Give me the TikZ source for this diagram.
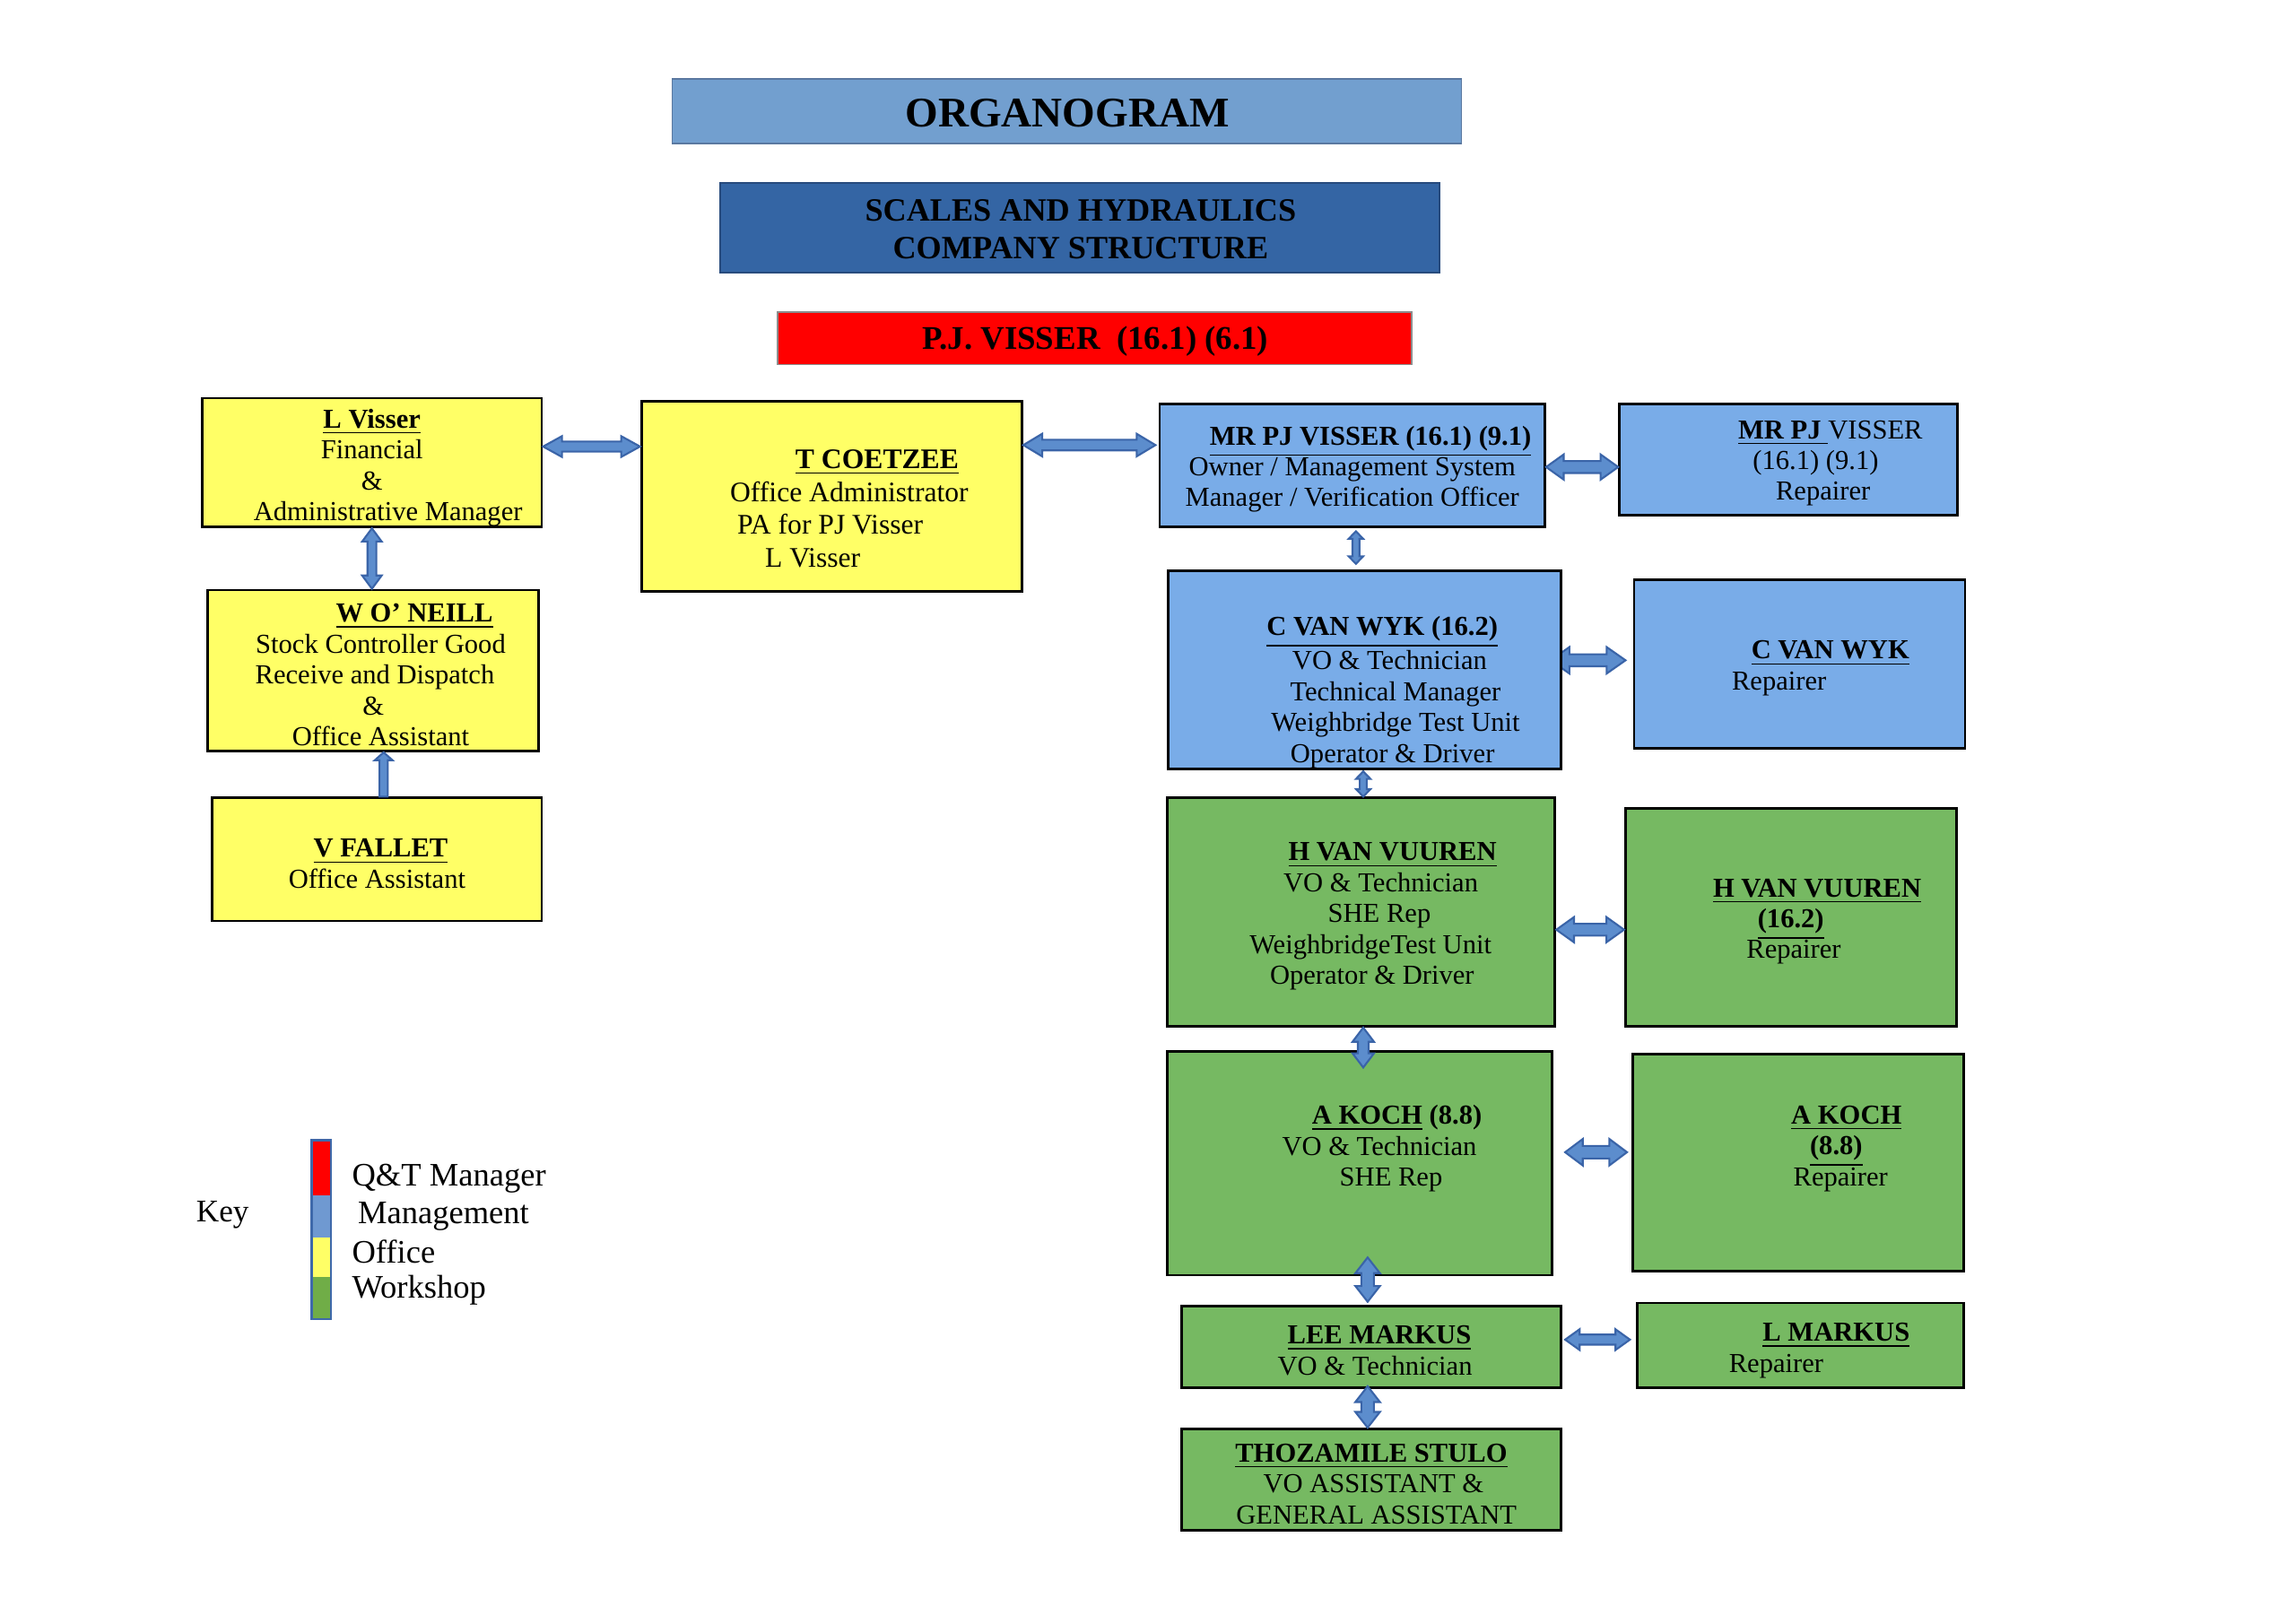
\documentclass[tikz,border=0pt]{standalone}
\usepackage{fontspec}
\setmainfont{Liberation Serif}
\usetikzlibrary{calc}
\definecolor{offyellow}{RGB}{255,255,102}
\definecolor{mgmtblue}{RGB}{121,172,232}
\definecolor{wsgreen}{RGB}{118,185,98}
\definecolor{titleblue}{RGB}{114,159,207}
\definecolor{titleborder}{RGB}{90,120,160}
\definecolor{compblue}{RGB}{52,101,164}
\definecolor{compborder}{RGB}{40,75,125}
\definecolor{keyblue}{RGB}{111,153,209}
\definecolor{keyborder}{RGB}{62,105,170}
\definecolor{keyyellow}{RGB}{255,255,102}
\definecolor{keygreen}{RGB}{112,173,71}
\definecolor{arrfill}{RGB}{92,141,205}
\definecolor{arrline}{RGB}{58,100,168}
\newlength\pxl \setlength\pxl{0.016327cm}
\newcommand\sh[1]{\hspace*{#1\pxl}}
\newcommand\nm[1]{\underline{\textbf{#1}}}
\pgfdeclarelayer{bg}\pgfsetlayers{bg,main}
% horizontal double block arrow: #1 left point, #2 right point, #3 head half width, #4 shaft half width, #5 head length
\newcommand\harr[5]{\path[blockarrow] let \p1=#1, \p2=#2 in
  (\x1,\y1) -- ({\x1+#5},{\y1+#3}) -- ({\x1+#5},{\y1+#4}) -- ({\x2-#5},{\y1+#4}) -- ({\x2-#5},{\y1+#3}) -- (\x2,\y1)
  -- ({\x2-#5},{\y1-#3}) -- ({\x2-#5},{\y1-#4}) -- ({\x1+#5},{\y1-#4}) -- ({\x1+#5},{\y1-#3}) -- cycle;}
% vertical double block arrow: #1 top point, #2 bottom point
\newcommand\varr[5]{\path[blockarrow] let \p1=#1, \p2=#2 in
  (\x1,\y1) -- ({\x1+#3},{\y1-#5}) -- ({\x1+#4},{\y1-#5}) -- ({\x1+#4},{\y2+#5}) -- ({\x1+#3},{\y2+#5}) -- (\x1,\y2)
  -- ({\x1-#3},{\y2+#5}) -- ({\x1-#4},{\y2+#5}) -- ({\x1-#4},{\y1-#5}) -- ({\x1-#3},{\y1-#5}) -- cycle;}
% vertical single block arrow, head at top: #1 top point, #2 bottom point
\newcommand\varrU[5]{\path[blockarrow] let \p1=#1, \p2=#2 in
  (\x1,\y1) -- ({\x1+#3},{\y1-#5}) -- ({\x1+#4},{\y1-#5}) -- ({\x1+#4},\y2) -- ({\x1-#4},\y2)
  -- ({\x1-#4},{\y1-#5}) -- ({\x1-#3},{\y1-#5}) -- cycle;}
\newcommand\orgbox[6]{\node[box,fill=#6,minimum width={(#4-#2)*\pxl},minimum height={(#5-#3)*\pxl}] (#1) at ({(#2+#4)/2},{(#3+#5)/2}) {};}
\begin{document}
\begin{tikzpicture}[x=0.016327cm,y=-0.016327cm,
  box/.style={draw=black,line width=0.8pt,inner sep=0pt},
  txt/.style={align=center,inner sep=0pt,yshift=-0.9pt,font=\fontsize{8.7}{9.8}\selectfont},
  blockarrow/.style={fill=arrfill,draw=arrline,line width=0.6pt,line join=miter},
  keylab/.style={anchor=west,inner sep=0pt,font=\fontsize{10.4}{12}\selectfont}]
\useasboundingbox (0,0) rectangle (1568,1109.2);

% header boxes
\node[draw=titleborder,line width=0.5pt,fill=titleblue,inner sep=0pt,
  minimum width={539*\pxl},minimum height={44*\pxl}] (title) at (728.5,76) {};
\node[inner sep=0pt,font=\fontsize{13.4}{16}\selectfont\bfseries] (title-t) at (729,77.5) {ORGANOGRAM};
\node[draw=compborder,line width=0.5pt,fill=compblue,inner sep=0pt,
  minimum width={491*\pxl},minimum height={61*\pxl}] (comp) at (737.5,155.5) {};
\node[inner sep=0pt,align=center,font=\fontsize{10.3}{12.1}\selectfont\bfseries] (comp-t) at (738,156.5) {SCALES AND HYDRAULICS\\COMPANY STRUCTURE};
\node[draw=black!45,line width=0.5pt,fill=red,inner sep=0pt,
  minimum width={433*\pxl},minimum height={36*\pxl}] (pj) at (747.5,231) {};
\node[inner sep=0pt,font=\fontsize{10.5}{12}\selectfont\bfseries] (pj-t) at (748,233) {P.J. VISSER\ \ (16.1) (6.1)};

% office boxes
\orgbox{lv}{138}{272}{370}{360}{offyellow}
\node[txt] (lv-t) at (254,317.5) {\nm{L Visser}\\Financial\\\&\\\sh{22}Administrative Manager};
\orgbox{tc}{438}{274}{698}{404}{offyellow}
\node[txt,font=\fontsize{9}{10.45}\selectfont] (tc-t) at (566,345.5) {\sh{66}\nm{T COETZEE}\\\sh{28}Office Administrator\\\sh{2}PA for PJ Visser\\\sh{-22}L Visser};
\orgbox{wo}{142}{403}{368}{513}{offyellow}
\node[txt] (wo-t) at (255,459) {\sh{56}\nm{W O’ NEILL}\\\sh{10}Stock Controller Good\\\sh{2}Receive and Dispatch\\\&\\\sh{10}Office Assistant};
\orgbox{vf}{145}{545}{370}{629}{offyellow}
\node[txt] (vf-t) at (257.5,588) {\sh{5}\nm{V FALLET}\\Office Assistant};

% management boxes
\orgbox{mp}{792}{276}{1055}{360}{mgmtblue}
\node[txt] (mp-t) at (923.5,318.5) {\sh{25}\nm{MR PJ VISSER (16.1) (9.1)}\\Owner / Management System\\Manager / Verification Officer};
\orgbox{mpr}{1106}{276}{1337}{352}{mgmtblue}
\node[txt] (mpr-t) at (1221.5,314.5) {\sh{57}\nm{MR PJ }VISSER\\\sh{37}(16.1) (9.1)\\\sh{47}Repairer};
\orgbox{cv}{798}{390}{1066}{525}{mgmtblue}
\node[txt] (cv-t) at (932,471) {\sh{24}\nm{C VAN WYK (16.2)}\\\sh{34}VO \& Technician\\\sh{42}Technical Manager\\\sh{42}Weighbridge Test Unit\\\sh{38}Operator \& Driver};
\orgbox{cvr}{1116}{396}{1342}{511}{mgmtblue}
\node[txt] (cvr-t) at (1229,454.5) {\sh{42}\nm{C VAN WYK}\\\sh{-28}Repairer};

% workshop boxes
\orgbox{hv}{797}{545}{1062}{701}{wsgreen}
\node[txt] (hv-t) at (929.5,624) {\sh{43}\nm{H VAN VUUREN}\\\sh{27}VO \& Technician\\\sh{25}SHE Rep\\\sh{13}WeighbridgeTest Unit\\\sh{15}Operator \& Driver};
\orgbox{hvr}{1110}{552}{1336}{701}{wsgreen}
\node[txt] (hvr-t) at (1223,627.5) {\sh{36}\nm{H VAN VUUREN}\\\nm{(16.2)}\\\sh{4}Repairer};
\orgbox{ak}{797}{718}{1060}{871}{wsgreen}
\node[txt] (ak-t) at (928.5,782.5) {\sh{51}\nm{A KOCH} \textbf{(8.8)}\\\sh{27}VO \& Technician\\\sh{43}SHE Rep};
\orgbox{akr}{1115}{720}{1341}{868}{wsgreen}
\node[txt] (akr-t) at (1228,782.5) {\sh{66}\nm{A KOCH}\\\sh{52}\nm{(8.8)}\\\sh{58}Repairer};
\orgbox{lm}{807}{892}{1066}{948}{wsgreen}
\node[txt] (lm-t) at (936.5,920.5) {\sh{11}\nm{LEE MARKUS}\\\sh{5}VO \& Technician};
\orgbox{lmr}{1118}{890}{1341}{948}{wsgreen}
\node[txt] (lmr-t) at (1229.5,920.5) {\sh{49}\nm{L MARKUS}\\\sh{-33}Repairer};
\orgbox{ts}{807}{976}{1066}{1045}{wsgreen}
\node[txt] (ts-t) at (936.5,1011.5) {\nm{THOZAMILE STULO}\\\sh{3}VO ASSISTANT \&\\\sh{7}GENERAL ASSISTANT};

% connectors
\harr{(lv.east|-0,305)}{(tc.west|-0,305)}{3.3pt}{1.6pt}{6pt}
\harr{(tc.east|-0,304)}{($(mp.west|-0,304)+(-2,0)$)}{3.6pt}{1.7pt}{6pt}
\harr{(mp.east|-0,319)}{(mpr.west|-0,319)}{4pt}{1.9pt}{5.6pt}
\varr{(254,0|-lv.south)}{(254,0|-wo.north)}{3.1pt}{1.4pt}{4.2pt}
\varrU{(262,0|-wo.south)}{(262,0|-vf.north)}{2.8pt}{1.3pt}{2.5pt}
\varr{($(926,0|-mp.south)+(0,2)$)}{($(926,0|-cv.north)+(0,-4)$)}{2.3pt}{1.1pt}{2.4pt}
\begin{pgfonlayer}{bg}
\harr{($(cv.east|-0,451)+(-8,0)$)}{($(cvr.west|-0,451)+(-5,0)$)}{4.2pt}{1.9pt}{6pt}
\end{pgfonlayer}
\varr{($(931,0|-cv.south)+(0,1)$)}{(931,0|-hv.north)}{2.3pt}{1.1pt}{2.4pt}
\harr{(hv.east|-0,635)}{(hvr.west|-0,635)}{4pt}{1.9pt}{5.6pt}
\varr{(931,0|-hv.south)}{($(931,0|-ak.north)+(0,12)$)}{3.4pt}{1.7pt}{4.5pt}
\harr{($(ak.east|-0,787)+(8,0)$)}{($(akr.west|-0,787)+(-3,0)$)}{4.2pt}{2pt}{5.6pt}
\varr{($(934,0|-ak.south)+(0,-13)$)}{($(934,0|-lm.north)+(0,-2)$)}{3.9pt}{2pt}{5pt}
\harr{($(lm.east|-0,915)+(2,0)$)}{($(lmr.west|-0,915)+(-4,0)$)}{3.3pt}{1.6pt}{4.6pt}
\varr{($(934,0|-lm.south)+(0,-2)$)}{(934,0|-ts.north)}{3.9pt}{2pt}{5pt}

% key
\node[inner sep=0pt,font=\fontsize{10}{12}\selectfont] (key) at (152,830) {Key};
\fill[red] (213,779) rectangle (226,816.5);
\fill[keyblue] (213,816.5) rectangle (226,845);
\fill[keyyellow] (213,845) rectangle (226,872);
\fill[keygreen] (213,872) rectangle (226,901);
\draw[keyborder,line width=0.8pt] (213,779) rectangle (226,901);
\node[keylab] (k1) at (240,805) {Q\&T Manager};
\node[keylab] (k2) at (244,831) {Management};
\node[keylab] (k3) at (240,855) {Office};
\node[keylab] (k4) at (240,881) {Workshop};
\end{tikzpicture}
\end{document}
